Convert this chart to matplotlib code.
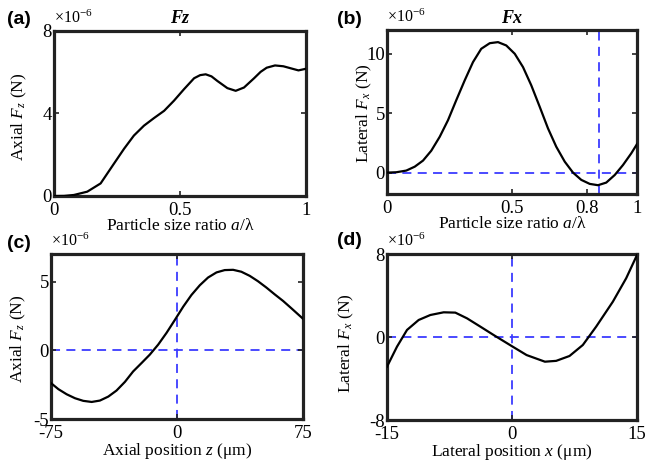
import matplotlib.pyplot as plt

plt.rcParams['font.family'] = 'Liberation Serif'
plt.rcParams['mathtext.fontset'] = 'custom'
plt.rcParams['mathtext.rm'] = 'Liberation Serif'
plt.rcParams['mathtext.it'] = 'Liberation Serif:italic'
plt.rcParams['mathtext.bf'] = 'Liberation Serif:bold'

# (a) axial force vs particle size ratio (units of 1e-6 N)
a_ratio = [0, 0.04, 0.079, 0.132, 0.185, 0.238, 0.278, 0.317, 0.357, 0.397, 0.437,
           0.476, 0.516, 0.556, 0.580, 0.602, 0.625, 0.648, 0.688, 0.721, 0.754,
           0.794, 0.82, 0.844, 0.877, 0.910, 0.943, 0.970, 1.0]
a_fz = [0, 0.005, 0.05, 0.21, 0.61, 1.57, 2.29, 2.93, 3.41, 3.78, 4.13,
        4.62, 5.18, 5.71, 5.86, 5.90, 5.80, 5.58, 5.23, 5.10, 5.26,
        5.71, 6.02, 6.22, 6.33, 6.29, 6.18, 6.09, 6.17]

# (b) lateral force vs particle size ratio
b_ratio = [0, 0.037, 0.077, 0.111, 0.144, 0.177, 0.211, 0.244, 0.277, 0.311, 0.344,
           0.377, 0.411, 0.444, 0.477, 0.511, 0.544, 0.577, 0.611, 0.644, 0.677,
           0.711, 0.744, 0.777, 0.811, 0.844, 0.877, 0.911, 0.944, 0.977, 1.0]
b_fx = [0, 0.03, 0.17, 0.5, 1.01, 1.84, 3.02, 4.41, 6.09, 7.77, 9.30,
        10.42, 10.89, 10.98, 10.70, 10.0, 8.88, 7.35, 5.53, 3.72, 2.18,
        0.92, 0, -0.61, -0.95, -1.06, -0.84, -0.2, 0.64, 1.62, 2.4]
b_marker = 0.848

# (c) axial force vs axial position
c_z = [-75, -70.6, -65.7, -60.7, -55.8, -50.8, -45.9, -40.9, -36.0, -31.0, -26.1,
       -21.1, -16.2, -11.2, -6.2, -1.3, 3.7, 8.6, 13.6, 18.5, 23.5, 28.4, 33.4,
       38.3, 43.3, 48.2, 53.2, 58.1, 63.1, 68.1, 75]
c_fz = [-2.39, -2.83, -3.20, -3.49, -3.68, -3.76, -3.66, -3.37, -2.93, -2.30, -1.54,
        -0.93, -0.32, 0.41, 1.27, 2.20, 3.17, 4.02, 4.73, 5.29, 5.66, 5.83, 5.85,
        5.71, 5.41, 5.02, 4.56, 4.07, 3.59, 3.05, 2.29]

# (d) lateral force vs lateral position
d_x = [-15, -13.8, -12.6, -11.2, -9.8, -8.2, -6.8, -5.4, -3.8, -2.2, 0.08, 1.75,
       3.95, 5.3, 6.9, 8.5, 10.1, 12.1, 13.7, 15]
d_fx = [-2.86, -0.93, 0.68, 1.64, 2.12, 2.38, 2.35, 1.8, 1.0, 0.19, -0.93, -1.74,
        -2.38, -2.3, -1.83, -0.77, 1.0, 3.4, 5.66, 7.9]

W, H = 647, 461
fig = plt.figure(figsize=(W / 100, H / 100), dpi=100)

def box(l, t, r, b):
    return [l / W, 1 - b / H, (r - l) / W, (b - t) / H]

axa = fig.add_axes(box(54, 31, 306, 196))
axb = fig.add_axes(box(387, 30, 637, 194))
axc = fig.add_axes(box(51, 254, 303, 419))
axd = fig.add_axes(box(387, 254, 637, 420))

dash = dict(color='#3b3bff', lw=1.3, dashes=(5, 3.5), zorder=1)

axa.plot(a_ratio, a_fz, color='black', lw=1.6, zorder=3)
axa.set_xlim(0, 1)
axa.set_ylim(0, 8)
axa.set_xticks([0, 0.5, 1])
axa.set_xticklabels(['0', '0.5', '1'])
axa.set_yticks([0, 4, 8])
axa.set_xlabel('Particle size ratio $a$/\u03bb')
axa.set_ylabel('Axial $F_z$ (N)')
axa.set_title('Fz', fontsize=13, pad=6, fontweight='bold', style='italic')

axb.plot(b_ratio, b_fx, color='black', lw=1.6, zorder=3)
axb.axhline(0, **dash)
axb.axvline(b_marker, **dash)
axb.set_xlim(0, 1)
axb.set_ylim(-1.8, 12)
axb.set_xticks([0, 0.5, 0.8, 1])
axb.set_xticklabels(['0', '0.5', '0.8', '1'])
axb.set_yticks([0, 5, 10])
axb.set_xlabel('Particle size ratio $a$/\u03bb')
axb.set_ylabel('Lateral $F_x$ (N)')
axb.set_title('Fx', fontsize=13, pad=5, fontweight='bold', style='italic')

axc.plot(c_z, c_fz, color='black', lw=1.6, zorder=3)
axc.axhline(0, **dash)
axc.axvline(0, **dash)
axc.set_xlim(-75, 75)
axc.set_ylim(-5, 7)
axc.set_xticks([-75, 0, 75])
axc.set_xticklabels(['-75', '0', '75'])
axc.set_yticks([-5, 0, 5])
axc.set_yticklabels(['-5', '0', '5'])
axc.set_xlabel('Axial position $z$ (\u03bcm)')
axc.set_ylabel('Axial $F_z$ (N)')

axd.plot(d_x, d_fx, color='black', lw=1.6, zorder=3)
axd.axhline(0, **dash)
axd.axvline(0, **dash)
axd.set_xlim(-15, 15)
axd.set_ylim(-8, 8)
axd.set_xticks([-15, 0, 15])
axd.set_xticklabels(['-15', '0', '15'])
axd.set_yticks([-8, 0, 8])
axd.set_yticklabels(['-8', '0', '8'])
axd.set_xlabel('Lateral position $x$ (\u03bcm)')
axd.set_ylabel('Lateral $F_x$ (N)')

axes = [axa, axb, axc, axd]
labels = ['(a)', '(b)', '(c)', '(d)']
label_xy = [(7, 20), (337, 20), (7, 243), (337, 240)]
ylabel_pos = [(-0.10, 0.48), (-0.054, 0.49), (-0.092, 0.485), (-0.124, 0.46)]

for ax, lab, (lx, ly), (yx, yy) in zip(axes, labels, label_xy, ylabel_pos):
    for s in ax.spines.values():
        s.set_linewidth(2.3)
        s.set_color('#222222')
    ax.tick_params(direction='in', length=3.5, width=1.2, top=True, right=True,
                   labelsize=13.5, colors='#222222', labelcolor='black')
    ax.tick_params(axis='x', pad=4)
    ax.tick_params(axis='y', pad=1.5)
    ax.xaxis.label.set_size(12.5)
    ax.yaxis.label.set_size(12.5)
    ax.xaxis.labelpad = -0.5
    ax.yaxis.set_label_coords(yx, yy)
    ax.text(0.0, 1.025, '\u00d710$^{-6}$', transform=ax.transAxes, fontsize=11.5,
            ha='left', va='bottom')
    fig.text(lx / W, 1 - ly / H, lab, fontsize=14, fontweight='bold',
             family='Liberation Sans', ha='left', va='center')

fig.savefig('out.png', dpi=100)
